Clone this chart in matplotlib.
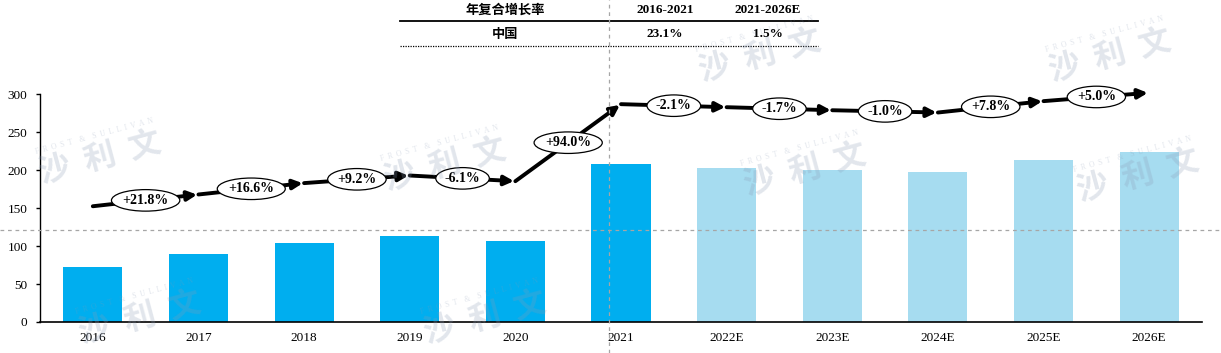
import matplotlib.pyplot as plt
import numpy as np
from matplotlib.lines import Line2D

years = ["2016", "2017", "2018", "2019", "2020", "2021",
         "2022E", "2023E", "2024E", "2025E", "2026E"]
market = [72.5, 89.5, 104, 113, 106.5, 208, 202.5, 200, 197.5, 213, 224]
trend = [152.5, 168, 183, 193, 185.5, 287, 283, 279, 276, 291, 302]
growth = ["+21.8%", "+16.6%", "+9.2%", "-6.1%", "+94.0%",
          "-2.1%", "-1.7%", "-1.0%", "+7.8%", "+5.0%"]
n_actual = 6

cagr_head = ["年复合增长率", "2016-2021", "2021-2026E"]
cagr_row = ["中国", "23.1%", "1.5%"]

W, H = 1221, 353
serif = "Liberation Serif"
cjk = ["Noto Sans CJK SC", "DejaVu Sans"]

def fx(px):
    return px / W

def fy(py):
    return 1 - py / H

fig = plt.figure(figsize=(W / 100, H / 100), dpi=100)
ax = fig.add_axes([fx(40), fy(322), fx(1202) - fx(40), fy(94.3) - fy(322)])

x = np.arange(len(years))
colors = ["#00AEEF"] * n_actual + ["#A6DCF0"] * (len(years) - n_actual)
ax.bar(x, market, width=0.56, color=colors, zorder=1)

# growth arrows
for i in range(len(trend) - 1):
    ax.annotate("", xy=(x[i + 1], trend[i + 1]), xytext=(x[i], trend[i]),
                arrowprops=dict(arrowstyle="-|>", lw=2.8, color="black",
                                mutation_scale=14, shrinkA=0, shrinkB=1),
                annotation_clip=False, zorder=3)
    ax.text((x[i] + x[i + 1]) / 2, (trend[i] + trend[i + 1]) / 2, growth[i],
            ha="center", va="center", fontsize=10, fontweight="bold",
            family=serif, zorder=5, clip_on=False,
            bbox=dict(boxstyle="ellipse,pad=0.08", fc="white", ec="black", lw=0.9))

ax.set_xlim(-0.5, 10.5)
ax.set_ylim(0, 300)
ax.set_yticks(range(0, 301, 50))
ax.set_xticks(x)
ax.set_xticklabels(years)
for s in ["top", "right"]:
    ax.spines[s].set_visible(False)
ax.spines["left"].set_linewidth(1.0)
ax.spines["bottom"].set_linewidth(1.2)
ax.tick_params(axis="x", length=0, pad=7)
ax.tick_params(axis="y", length=3, width=1, pad=6)
for lab in ax.get_xticklabels() + ax.get_yticklabels():
    lab.set_family(serif)
    lab.set_fontsize(9.5)

# CAGR table
cols = [505, 665, 768]
for c, t in zip(cols, cagr_head):
    fam = cjk if c == cols[0] else serif
    fig.text(fx(c), fy(10), t, ha="center", va="center", fontsize=9.5,
             fontweight="bold", family=fam)
for c, t in zip(cols, cagr_row):
    fam = cjk if c == cols[0] else serif
    fig.text(fx(c), fy(34), t, ha="center", va="center", fontsize=9.5,
             fontweight="bold", family=fam)
fig.add_artist(Line2D([fx(400), fx(818)], [fy(21), fy(21)], color="black", lw=1.3))
fig.add_artist(Line2D([fx(400), fx(818)], [fy(46), fy(46)], color="black",
                      lw=0.9, linestyle=(0, (1, 1))))

# reference dashed lines
fig.add_artist(Line2D([0, 1], [fy(230), fy(230)], color="#a6a6a6", lw=0.9,
                      linestyle=(0, (3, 3)), zorder=6))
fig.add_artist(Line2D([fx(609), fx(609)], [0, 1], color="#a6a6a6", lw=0.9,
                      linestyle=(0, (3, 3)), zorder=6))

# watermarks (kept fully inside the canvas)
marks = [(100, 158), (445, 165), (805, 170), (1138, 176),
         (140, 318), (485, 318), (760, 56), (1110, 56)]
ang = 15
for mx, my in marks:
    fig.text(fx(mx), fy(my), "沙  利  文", ha="center", va="center",
             rotation=ang, rotation_mode="anchor", fontsize=23,
             fontweight="bold", family=cjk, color="#8a9bb5", alpha=0.25, zorder=7)
    ox = -np.sin(np.radians(ang)) * 23
    oy = -np.cos(np.radians(ang)) * 23
    fig.text(fx(mx + ox), fy(my + oy), "F  R  O  S  T    &    S  U  L  L  I  V  A  N",
             ha="center", va="center", rotation=ang, rotation_mode="anchor",
             fontsize=5.5, family=serif, color="#8a9bb5", alpha=0.25, zorder=7)

fig.savefig("out.png", dpi=100)
